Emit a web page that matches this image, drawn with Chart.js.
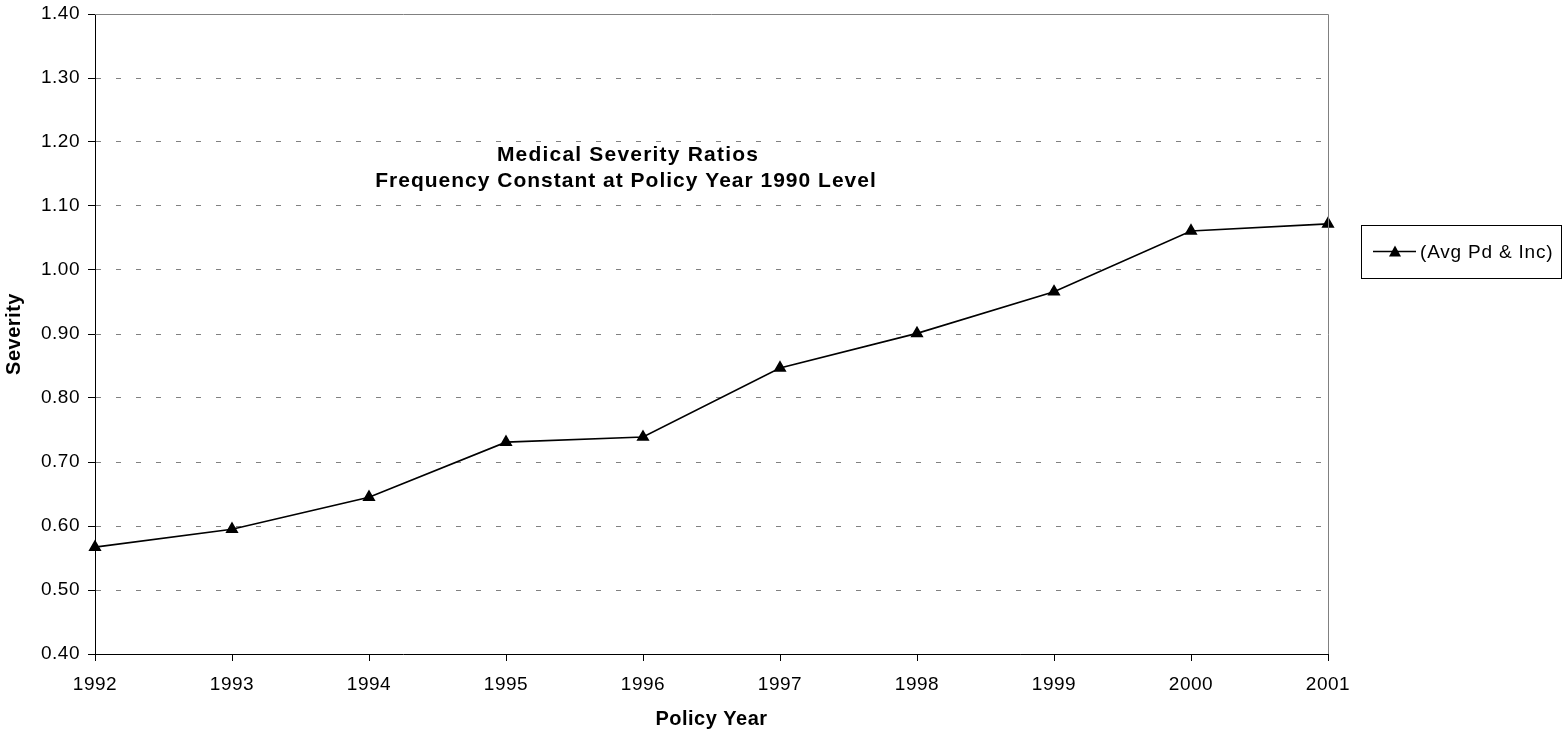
<!DOCTYPE html>
<html>
<head>
<meta charset="utf-8">
<title>Medical Severity Ratios</title>
<script src="https://cdn.jsdelivr.net/npm/chart.js@4/dist/chart.umd.min.js"></script>
<style>
  html, body { margin: 0; padding: 0; background: #fff; }
  #wrap { width: 1564px; height: 735px; position: relative; }
</style>
</head>
<body>
<div id="wrap"><canvas id="severity"></canvas></div>
<script>
const policyYears = ["1992", "1993", "1994", "1995", "1996", "1997", "1998", "1999", "2000", "2001"];
const severity = [0.567, 0.595, 0.645, 0.731, 0.739, 0.847, 0.901, 0.966, 1.061, 1.072];
const seriesLabel = "(Avg Pd & Inc)";
const titleLines = ["Medical Severity Ratios", "Frequency Constant at Policy Year 1990 Level"];
const yMin = 0.4;
const yMax = 1.4;
const yStep = 0.1;

const FONT = "'Liberation Sans', Arial, sans-serif";

// slightly loose text spacing for every label the chart draws
const spacing = {
  id: "spacing",
  beforeDraw(chart) {
    chart.ctx.letterSpacing = "0.5px";
  }
};

// frame: gray top/right edge, the inner title and the boxed legend
const decorations = {
  id: "decorations",
  afterDraw(chart) {
    const { ctx, chartArea } = chart;
    ctx.save();
    ctx.strokeStyle = "#808080";
    ctx.lineWidth = 1;
    ctx.beginPath();
    ctx.moveTo(chartArea.left, chartArea.top + 0.5);
    ctx.lineTo(chartArea.right + 0.5, chartArea.top + 0.5);
    ctx.lineTo(chartArea.right + 0.5, chartArea.bottom);
    ctx.stroke();

    ctx.fillStyle = "#000";
    ctx.font = "bold 21px " + FONT;
    ctx.textAlign = "center";
    ctx.textBaseline = "middle";
    ctx.letterSpacing = "1.2px";
    ctx.fillText(titleLines[0], 628, 155);
    ctx.letterSpacing = "1px";
    ctx.fillText(titleLines[1], 626, 181);

    // legend box
    const bx = 1361, by = 225, bw = 200, bh = 53;
    ctx.strokeStyle = "#000";
    ctx.strokeRect(bx + 0.5, by + 0.5, bw, bh);
    const ly = by + bh / 2;
    ctx.lineWidth = 1.5;
    ctx.beginPath();
    ctx.moveTo(bx + 12, ly);
    ctx.lineTo(bx + 55, ly);
    ctx.stroke();
    ctx.beginPath();
    ctx.moveTo(bx + 34, ly - 6);
    ctx.lineTo(bx + 40, ly + 5);
    ctx.lineTo(bx + 28, ly + 5);
    ctx.closePath();
    ctx.fill();
    ctx.letterSpacing = "0.8px";
    ctx.font = "19px " + FONT;
    ctx.textAlign = "left";
    ctx.fillText(chart.data.datasets[0].label, bx + 59, ly + 1);
    ctx.restore();
  }
};

new Chart(document.getElementById("severity"), {
  type: "line",
  data: {
    labels: policyYears,
    datasets: [{
      label: seriesLabel,
      data: severity,
      borderColor: "#000",
      borderWidth: 1.6,
      backgroundColor: "#000",
      pointStyle: "triangle",
      pointRadius: 6,
      pointHoverRadius: 6,
      tension: 0,
      fill: false
    }]
  },
  options: {
    responsive: true,
    maintainAspectRatio: false,
    animation: false,
    layout: { padding: { left: 0, right: 236, top: 14, bottom: 0 } },
    plugins: {
      legend: { display: false },
      tooltip: { enabled: false }
    },
    scales: {
      x: {
        offset: false,
        afterFit: (scale) => { scale.height = 81; },
        grid: {
          drawOnChartArea: false,
          drawTicks: true,
          tickLength: 7,
          tickColor: "#000"
        },
        border: { display: true, color: "#000", width: 1 },
        ticks: {
          color: "#000",
          font: { family: FONT, size: 19 },
          padding: 12,
          maxRotation: 0
        },
        title: {
          display: true,
          text: "Policy Year",
          color: "#000",
          font: { family: FONT, size: 20, weight: "bold" },
          padding: { top: 2 }
        }
      },
      y: {
        min: yMin,
        max: yMax,
        afterFit: (scale) => {
          scale.width = 95;
          scale.paddingTop = 0;
          scale.paddingBottom = 0;
        },
        grid: {
          color: "#808080",
          tickColor: "#000",
          tickLength: 7,
          tickBorderDash: []
        },
        border: { display: true, color: "#000", width: 1, dash: [5, 15] },
        ticks: {
          stepSize: yStep,
          color: "#000",
          font: { family: FONT, size: 19 },
          padding: 8,
          callback: (value) => Number(value).toFixed(2)
        },
        title: {
          display: true,
          text: "Severity",
          color: "#000",
          font: { family: FONT, size: 20, weight: "bold" },
          padding: { top: 2, bottom: 0 }
        }
      }
    }
  },
  plugins: [spacing, decorations]
});
</script>
</body>
</html>
